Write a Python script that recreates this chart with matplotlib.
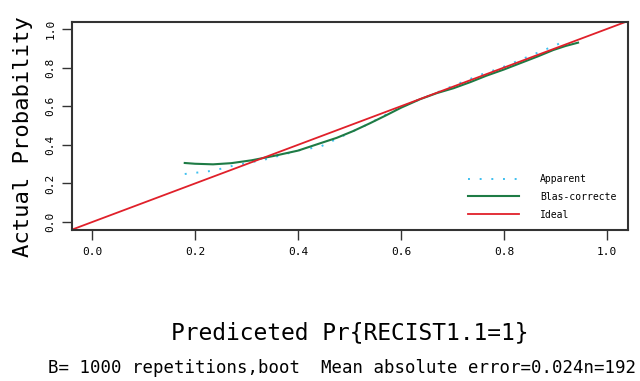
import matplotlib.pyplot as plt

# calibration curve
apparent_x = [0.18, 0.20, 0.235, 0.274, 0.31, 0.339, 0.37, 0.404, 0.443, 0.473, 0.50, 0.533, 0.582,
              0.62, 0.66, 0.721, 0.76, 0.792, 0.831, 0.870, 0.90, 0.922]
apparent_y = [0.249, 0.255, 0.266, 0.292, 0.310, 0.326, 0.348, 0.373, 0.390, 0.428, 0.462, 0.503, 0.572,
              0.618, 0.660, 0.727, 0.768, 0.796, 0.839, 0.882, 0.915, 0.943]
corrected_x = [0.18, 0.20, 0.235, 0.27, 0.31, 0.352, 0.40, 0.443, 0.475, 0.507, 0.54, 0.572,
               0.60, 0.637, 0.67, 0.702, 0.735, 0.766, 0.80, 0.831, 0.865, 0.896, 0.92, 0.944]
corrected_y = [0.306, 0.302, 0.299, 0.305, 0.320, 0.342, 0.370, 0.408, 0.436, 0.471, 0.512, 0.554,
               0.592, 0.636, 0.668, 0.693, 0.725, 0.758, 0.790, 0.822, 0.857, 0.891, 0.912, 0.929]
ticks = [0.0, 0.2, 0.4, 0.6, 0.8, 1.0]
legend_labels = ['Apparent', 'Blas-correcte', 'Ideal']

mono = 'DejaVu Sans Mono'
fig = plt.figure(figsize=(6.4, 3.81), dpi=100)
ax = fig.add_axes([72 / 640, 1 - 230 / 381, 556 / 640, 208 / 381])

ax.plot(apparent_x, apparent_y, color='#3fc0f0', lw=1.4, linestyle=(0, (1, 5)), label=legend_labels[0])
ax.plot(corrected_x, corrected_y, color='#1e7b45', lw=1.5, label=legend_labels[1])
ax.axline((0, 0), (1, 1), color='#e0202a', lw=1.3, label=legend_labels[2])

ax.set_xlim(-0.039, 1.041)
ax.set_ylim(-0.041, 1.036)
ax.set_xticks(ticks)
ax.set_yticks(ticks)
ax.set_xticklabels(['%.1f' % t for t in ticks], fontsize=8, family=mono)
ax.set_yticklabels(['%.1f' % t for t in ticks], fontsize=8, family=mono,
                   rotation=90, va='center')
ax.tick_params(direction='out', length=7, width=1, color='#333333', pad=5)
for sp in ax.spines.values():
    sp.set_linewidth(1.5)
    sp.set_color('#333333')

fig.text(23 / 640, 1 - 137 / 381, 'Actual Probability', fontsize=16, family=mono,
         rotation=90, ha='center', va='center')
fig.text(350 / 640, 1 - 333 / 381, 'Prediceted Pr{RECIST1.1=1}', fontsize=16.5,
         family=mono, ha='center', va='center')
fig.text(342 / 640, 1 - 368 / 381,
         'B= 1000 repetitions,boot  Mean absolute error=0.024n=192',
         fontsize=12.5, family=mono, ha='center', va='center')

ax.legend(loc='upper left', bbox_to_anchor=(468 / 640, 1 - 174 / 381),
          bbox_transform=fig.transFigure, frameon=False, borderpad=0,
          borderaxespad=0, handlelength=5.2, handletextpad=2.2,
          labelspacing=0.8, prop={'family': mono, 'size': 7})

fig.savefig('out.png', dpi=100)
